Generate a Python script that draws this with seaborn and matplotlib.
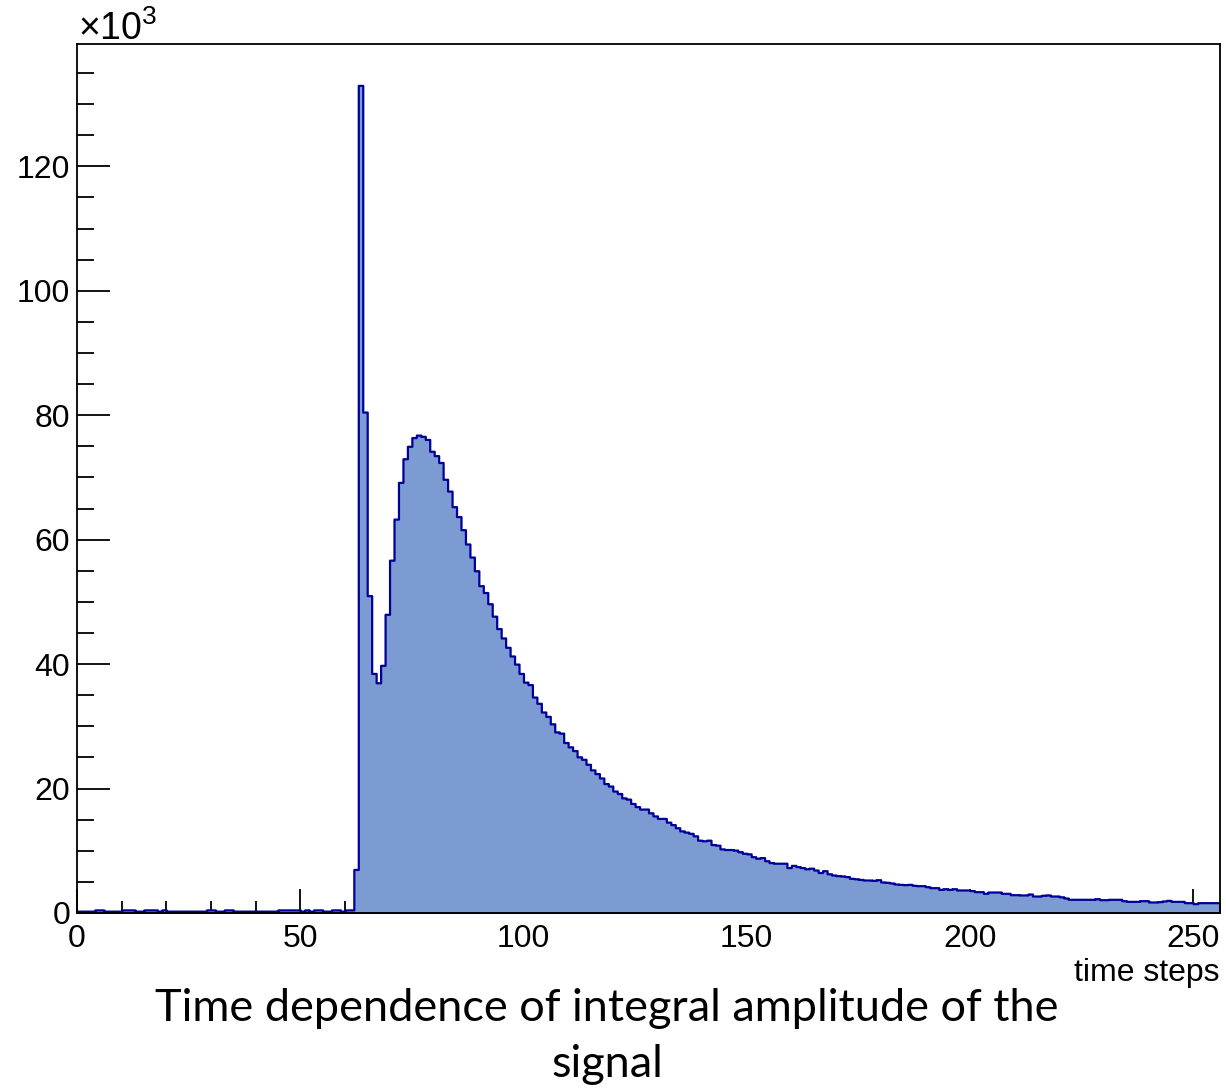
import numpy as np
import pandas as pd
import matplotlib
matplotlib.use("Agg")
import matplotlib.pyplot as plt
from matplotlib.ticker import MultipleLocator
import seaborn as sns

# ---- data (counts in thousands, one value per time step bin 0..255) ----
baseline_counts = [0.3, 0.3, 0.3, 0.3, 0.5, 0.5, 0.3, 0.3, 0.3, 0.3,
                   0.5, 0.5, 0.5, 0.3, 0.3, 0.5, 0.5, 0.5, 0.3, 0.5,
                   0.3, 0.3, 0.3, 0.3, 0.3, 0.3, 0.3, 0.3, 0.3, 0.5,
                   0.5, 0.3, 0.3, 0.5, 0.5, 0.3, 0.3, 0.3, 0.3, 0.3,
                   0.3, 0.3, 0.3, 0.3, 0.3, 0.5, 0.5, 0.5, 0.5, 0.5,
                   0.3, 0.5, 0.3, 0.5, 0.5, 0.3, 0.3, 0.5, 0.5, 0.3,
                   0.5, 0.5]                      # bins 0-61
onset_counts = [7.0, 133.0, 80.5, 51.0, 38.5, 37.0, 39.8, 48.0, 56.7, 63.3,
                69.2, 73.0, 75.0, 76.4, 76.8, 76.6, 76.1, 74.2, 73.5, 72.4,
                69.7, 67.8, 65.3, 63.7, 61.6, 59.3, 57.2, 55.0, 52.6, 51.5,
                49.7, 47.7]                        # bins 62-93
decay_counts = [45.7, 44.2, 42.7, 41.3, 40.0, 38.5, 37.1, 36.7, 34.7, 33.7,
                32.3, 31.6, 30.4, 29.1, 28.9, 27.4, 26.7, 26.1, 25.1, 24.7,
                23.9, 23.0, 22.4, 21.7, 20.8, 20.4, 19.6, 19.2, 18.5, 18.3,
                17.6, 17.1, 16.7, 16.7, 16.1, 15.6, 15.2, 15.2, 14.6, 14.2,
                13.7, 13.2, 13.0, 12.8, 12.4, 11.7, 11.6, 11.7, 11.0, 10.9,
                10.3, 10.2, 10.2, 10.1, 9.85, 9.6, 9.5, 9.05, 8.8, 8.9,
                8.4, 8.1, 8.0, 8.0, 8.0, 7.3, 7.65, 7.45, 7.3, 7.1,
                7.2, 6.9, 6.5, 6.8, 6.3, 6.1, 6.0, 5.95, 5.85, 5.57,
                5.5, 5.4, 5.3, 5.3, 5.25, 5.35, 4.98, 4.93, 4.82, 4.66,
                4.6, 4.55, 4.6, 4.45, 4.39, 4.39]  # bins 94-189
tail_counts = [4.23, 4.07, 4.07, 3.8, 3.9, 3.8, 3.9, 3.7, 3.7, 3.7,
               3.6, 3.43, 3.43, 3.16, 3.37, 3.37, 3.37, 3.16, 3.16, 2.94,
               2.94, 2.9, 2.9, 3.05, 2.73, 2.73, 2.85, 2.9, 2.73, 2.73,
               2.6, 2.41, 2.2, 2.2, 2.2, 2.2, 2.2, 2.2, 2.3, 2.14,
               2.14, 2.2, 2.2, 2.2, 1.98, 1.87, 1.87, 1.87, 1.98, 1.98,
               1.77, 1.77, 1.82, 1.93, 2.03, 1.87, 1.87, 1.87, 1.66, 1.66,
               1.5, 1.66, 1.66, 1.66, 1.66, 1.66]  # bins 190-255

counts = baseline_counts + onset_counts + decay_counts + tail_counts
time_steps = np.arange(len(counts)) + 0.5
x_ticks = [0, 50, 100, 150, 200, 250]
y_ticks = [0, 20, 40, 60, 80, 100, 120]

df = pd.DataFrame({"time": time_steps, "amp": counts})

# ---- styling ----
sns.set_theme(style="white")
plt.rcParams["font.family"] = ["Liberation Sans", "DejaVu Sans"]
plt.rcParams["mathtext.fontset"] = "custom"
plt.rcParams["mathtext.rm"] = "Liberation Sans"

W, H = 1226, 1090
fig = plt.figure(figsize=(W / 100, H / 100), dpi=100)
ax = fig.add_axes([77 / W, 1 - 913 / H, (1220 - 77) / W, (913 - 44) / H])

sns.histplot(data=df, x="time", weights="amp", bins=256, binrange=(0, 256),
             element="step", fill=True, color="#7b9bd2", edgecolor="#000099",
             linewidth=1.6, alpha=1, ax=ax)

ax.set_xlim(0, 256)
ax.set_ylim(0, 1.05 * max(counts))
ax.set_xticks(x_ticks)
ax.set_yticks(y_ticks)
ax.xaxis.set_minor_locator(MultipleLocator(10))
ax.yaxis.set_minor_locator(MultipleLocator(5))
ax.tick_params(axis="both", which="both", direction="in", color="black",
               width=1.3, labelsize=23, labelcolor="black",
               top=False, right=False, bottom=True, left=True)
ax.tick_params(axis="x", which="major", length=17, pad=8)
ax.tick_params(axis="x", which="minor", length=9)
ax.tick_params(axis="y", which="major", length=24, pad=5)
ax.tick_params(axis="y", which="minor", length=12)
ax.set_xlabel("")
ax.set_ylabel("")
for s in ax.spines.values():
    s.set_visible(True)
    s.set_color("black")
    s.set_linewidth(1.3)
ax.set_facecolor("white")
fig.patch.set_facecolor("white")

# axis title & exponent
fig.text(1219 / W, 1 - 973 / H, "time steps", ha="right", va="center",
         fontsize=23, color="black")
fig.text(78 / W, 1 - 40 / H, r"$\mathregular{\times10^{3}}$", ha="left",
         va="baseline", fontsize=27, color="black")

# caption below chart
fig.text(607 / W, 1 - 988 / H,
         "Time dependence of integral amplitude of the\nsignal",
         ha="center", va="top", fontsize=32.5, linespacing=1.45,
         family=["Lato", "DejaVu Sans"], color="black")

fig.savefig("out.png", dpi=100, facecolor="white")
